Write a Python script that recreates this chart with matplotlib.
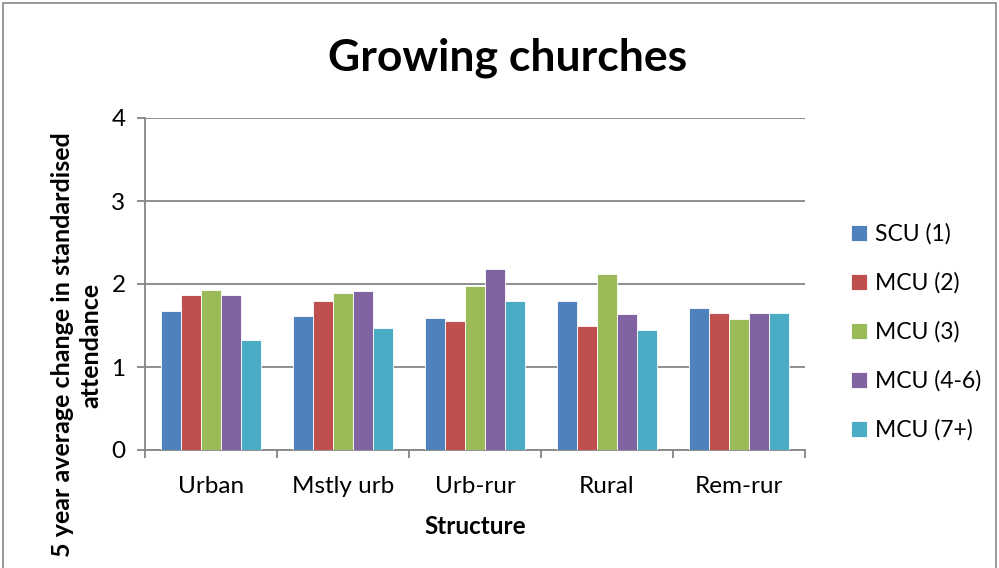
import matplotlib.pyplot as plt
import numpy as np

categories = ["Urban", "Mstly urb", "Urb-rur", "Rural", "Rem-rur"]
series_names = ["SCU (1)", "MCU (2)", "MCU (3)", "MCU (4-6)", "MCU (7+)"]
scu_1 = [1.67, 1.62, 1.59, 1.80, 1.71]
mcu_2 = [1.87, 1.80, 1.56, 1.50, 1.65]
mcu_3 = [1.93, 1.89, 1.97, 2.12, 1.58]
mcu_4_6 = [1.87, 1.92, 2.18, 1.64, 1.65]
mcu_7 = [1.33, 1.47, 1.79, 1.45, 1.65]
colors = ["#4F81BD", "#C0504D", "#9BBB59", "#8064A2", "#4BACC6"]

plt.rcParams["font.family"] = ["Lato", "DejaVu Sans"]

fig = plt.figure(figsize=(9.99, 5.68), dpi=100)
ax = fig.add_axes([145 / 999, 1 - 450 / 568, 660 / 999, 332 / 568])

# outer chart border (bottom edge falls outside the image)
fig.patches.append(plt.Rectangle((3 / 999, -0.1), 993 / 999, 1.1 - 3 / 568,
                                 transform=fig.transFigure, fill=False,
                                 edgecolor="#868686", linewidth=1.2))

x = np.arange(len(categories))
w = 0.152
series = [scu_1, mcu_2, mcu_3, mcu_4_6, mcu_7]
for i, (vals, name) in enumerate(zip(series, series_names)):
    ax.bar(x + (i - 2) * w, vals, w, color=colors[i], edgecolor="white", linewidth=0.6,
           label=name, zorder=3)

ax.set_xlim(-0.5, len(categories) - 0.5)
ax.set_ylim(0, 4)
ax.set_yticks([0, 1, 2, 3, 4])
ax.yaxis.grid(True, color="#868686", linewidth=1.3, zorder=0)
ax.set_axisbelow(True)

ax.set_xticks(x)
ax.set_xticklabels(categories, fontsize=17.5)
ax.tick_params(axis="x", length=0, pad=19)
ax.set_xticks(np.arange(-0.5, len(categories)), minor=True)
ax.tick_params(axis="x", which="minor", length=6, color="#868686", width=1.3, direction="out")
ax.tick_params(axis="y", length=6, color="#868686", width=1.3, labelsize=17.5, pad=8)

for side in ["top", "right"]:
    ax.spines[side].set_visible(False)
for side in ["left", "bottom"]:
    ax.spines[side].set_color("#868686")
    ax.spines[side].set_linewidth(1.3)

ax.set_xlabel("Structure", fontsize=17.5, fontweight="bold", labelpad=13)
fig.text(77 / 999, 1 - 345 / 568, "5 year average change in standardised\nattendance",
         fontsize=18, fontweight="bold", rotation=90, ha="center", va="center",
         linespacing=1.3, multialignment="center")

fig.text(508 / 999, 1 - 58 / 568, "Growing churches", fontsize=32, fontweight="bold",
         ha="center", va="center")

ax.legend(loc="center left", bbox_to_anchor=(830 / 999, 1 - 332 / 568),
          bbox_transform=fig.transFigure, frameon=False, fontsize=16.5,
          handlelength=0.7, handleheight=0.7, labelspacing=1.2, handletextpad=0.35)

fig.savefig("out.png", dpi=100)
